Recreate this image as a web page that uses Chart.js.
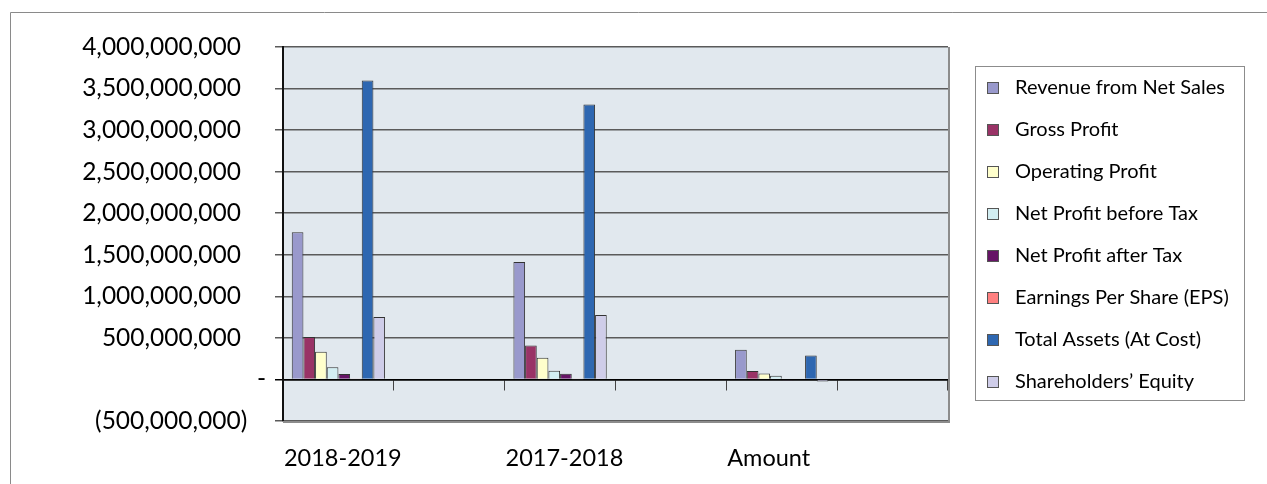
<!DOCTYPE html>
<html>
<head>
<meta charset="utf-8">
<script src="https://cdn.jsdelivr.net/npm/chart.js@4.4.1/dist/chart.umd.min.js"></script>
<style>
  html, body { margin: 0; padding: 0; background: #ffffff; }
  #wrap { position: relative; width: 1267px; height: 484px; }
</style>
</head>
<body>
<div id="wrap"><canvas id="c" width="1267" height="484"></canvas></div>
<script>
// Category slots: every other slot is left empty to space the groups out
const categories = ['2018-2019', '', '2017-2018', '', 'Amount', ''];

const seriesNames = [
  'Revenue from Net Sales',
  'Gross Profit',
  'Operating Profit',
  'Net Profit before Tax',
  'Net Profit after Tax',
  'Earnings Per Share (EPS)',
  'Total Assets (At Cost)',
  'Shareholders\u2019 Equity'
];

const revenue     = [1772000000, null, 1412000000, null, 356000000, null];
const grossProfit = [511000000, null, 408000000, null, 103000000, null];
const opProfit    = [332000000, null, 261000000, null, 71000000, null];
const npBeforeTax = [148000000, null, 104000000, null, 44000000, null];
const npAfterTax  = [67000000, null, 68000000, null, -6000000, null];
const eps         = [3, null, 3, null, 0, null];
const totalAssets = [3596000000, null, 3308000000, null, 288000000, null];
const equity      = [752000000, null, 776000000, null, -26000000, null];

const yTicks = [-500000000, 0, 500000000, 1000000000, 1500000000, 2000000000,
                2500000000, 3000000000, 3500000000, 4000000000];

const seriesColors = ['#9999CC', '#993366', '#FFFFCC', '#D2EEF2',
                      '#661466', '#FF8080', '#2E67B1', '#CFCDE9'];

const seriesData = [revenue, grossProfit, opProfit, npBeforeTax,
                    npAfterTax, eps, totalAssets, equity];

// accounting style: dash for zero, brackets for negatives, trailing space keeps columns aligned
function fmtAccounting(v) {
  if (v === 0) return '-';
  const s = Math.abs(v).toLocaleString('en-US');
  return v < 0 ? '(' + s + ')   ' : s + '    ';
}

// plot background and outer frame
const framePlugin = {
  id: 'frame',
  beforeDraw(chart) {
    const {ctx, chartArea: a} = chart;
    ctx.save();
    ctx.fillStyle = '#E1E8EE';
    ctx.fillRect(a.left, a.top, a.right - a.left, a.bottom - a.top);
    ctx.strokeStyle = '#8a8a8a';
    ctx.lineWidth = 1;
    ctx.beginPath();
    ctx.moveTo(10.5, chart.height);
    ctx.lineTo(10.5, 12.5);
    ctx.lineTo(chart.width, 12.5);
    ctx.stroke();
    ctx.restore();
  },
  afterDatasetsDraw(chart) {
    const {ctx, chartArea: a} = chart;
    ctx.save();
    ctx.strokeStyle = '#8c8c8c';
    ctx.lineWidth = 2;
    ctx.beginPath();
    ctx.moveTo(a.left, a.bottom + 1);
    ctx.lineTo(a.right + 1, a.bottom + 1);
    ctx.lineTo(a.right + 1, a.top);
    ctx.stroke();
    ctx.restore();
  }
};

// boxed legend on the right
const legendBoxPlugin = {
  id: 'legendBox',
  afterDraw(chart) {
    const {ctx} = chart;
    const box = {x: 975.5, y: 66.5, w: 269, h: 334};
    ctx.save();
    ctx.strokeStyle = '#8c8c8c';
    ctx.lineWidth = 1;
    ctx.strokeRect(box.x, box.y, box.w, box.h);
    ctx.font = '20px Lato';
    ctx.textBaseline = 'middle';
    ctx.textAlign = 'left';
    chart.data.datasets.forEach((ds, i) => {
      const cy = 88 + i * 41.95;
      ctx.fillStyle = ds.backgroundColor;
      ctx.fillRect(987.5, Math.round(cy) - 5.5, 11, 11);
      ctx.strokeStyle = '#555';
      ctx.strokeRect(987.5, Math.round(cy) - 5.5, 11, 11);
      ctx.fillStyle = '#000';
      ctx.fillText(ds.label, 1015, cy);
    });
    ctx.restore();
  }
};

new Chart(document.getElementById('c'), {
  type: 'bar',
  data: {
    labels: categories,
    datasets: seriesNames.map((name, i) => ({
      label: name,
      data: seriesData[i],
      backgroundColor: seriesColors[i],
      borderColor: '#333333',
      borderWidth: 1,
      xAxisID: 'x',
      yAxisID: 'y'
    }))
  },
  options: {
    responsive: false,
    animation: false,
    devicePixelRatio: 1,
    layout: { padding: { left: 0, right: 319, top: 47, bottom: 0 } },
    plugins: { legend: { display: false }, tooltip: { enabled: false } },
    datasets: { bar: { categoryPercentage: 0.842, barPercentage: 1.0 } },
    scales: {
      x: {
        type: 'category',
        position: { y: 0 },
        offset: true,
        grid: { offset: true, drawOnChartArea: false, drawTicks: true, tickLength: 10, color: '#444', lineWidth: 1 },
        border: { display: true, color: '#000', width: 1.5 },
        ticks: { display: false }
      },
      xl: {
        type: 'category',
        position: 'bottom',
        offset: true,
        grid: { display: false, drawTicks: false },
        border: { display: false },
        ticks: {
          autoSkip: false, maxRotation: 0, minRotation: 0,
          align: 'start', labelOffset: -54.5, padding: 23,
          color: '#000', font: { family: 'Lato', size: 23.5 }
        },
        afterFit(s) { s.height = 63; }
      },
      y: {
        type: 'linear',
        position: 'left',
        min: -500000000,
        max: 4000000000,
        afterBuildTicks(s) { s.ticks = yTicks.map(v => ({ value: v })); },
        afterFit(s) { s.width = 283; },
        grid: {
          drawTicks: true, tickLength: 8, lineWidth: 1.5,
          color: ctx => (ctx.tick && ctx.tick.value === 0) ? '#000' : '#5a5a5a'
        },
        border: { display: true, color: '#111', width: 2 },
        ticks: {
          padding: 9, color: '#000', font: { family: 'Lato', size: 24.5 },
          callback: v => fmtAccounting(v)
        }
      }
    }
  },
  plugins: [framePlugin, legendBoxPlugin]
});
</script>
</body>
</html>
